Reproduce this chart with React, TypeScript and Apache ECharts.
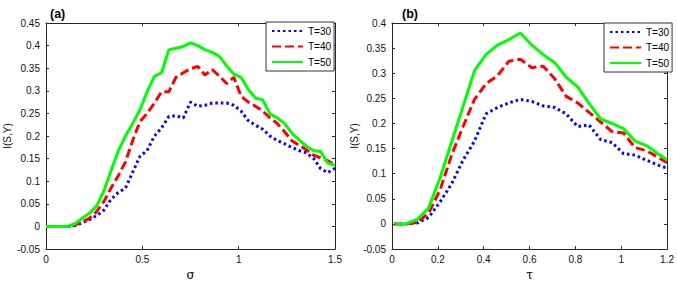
import React, { useEffect, useRef } from "react";
import * as echarts from "echarts";

// ---- Data: panel (a) ----
const sigma = [
  0, 0.0375, 0.075, 0.1125, 0.15, 0.1875, 0.225, 0.2625, 0.3, 0.3375, 0.375,
  0.4125, 0.45, 0.4875, 0.525, 0.5625, 0.6, 0.6375, 0.675, 0.7125, 0.75,
  0.7875, 0.825, 0.8625, 0.9, 0.9375, 0.975, 1.0125, 1.05, 1.0875, 1.125,
  1.1625, 1.2, 1.2375, 1.275, 1.3125, 1.35, 1.3875, 1.425, 1.4625, 1.5,
];
const a30 = [
  0, 0, 0, 0, 0.002, 0.008, 0.015, 0.024, 0.036, 0.06, 0.075,
  0.085, 0.12, 0.155, 0.168, 0.2, 0.218, 0.243, 0.245, 0.24, 0.275,
  0.266, 0.268, 0.273, 0.273, 0.273, 0.268, 0.255, 0.234, 0.224, 0.215,
  0.2, 0.19, 0.183, 0.175, 0.168, 0.163, 0.151, 0.128, 0.119, 0.129,
];
const a40 = [
  0, 0, 0, 0, 0.003, 0.01, 0.018, 0.033, 0.055, 0.085, 0.112,
  0.143, 0.19, 0.232, 0.25, 0.273, 0.298, 0.298, 0.33, 0.34, 0.349,
  0.354, 0.335, 0.347, 0.333, 0.316, 0.33, 0.288, 0.275, 0.266, 0.255,
  0.24, 0.228, 0.21, 0.19, 0.18, 0.17, 0.158, 0.152, 0.145, 0.137,
];
const a50 = [
  0, 0, 0, 0, 0.006, 0.018, 0.029, 0.045, 0.078, 0.123, 0.167,
  0.2, 0.228, 0.258, 0.298, 0.332, 0.34, 0.391, 0.394, 0.398, 0.406,
  0.4, 0.391, 0.385, 0.376, 0.355, 0.337, 0.33, 0.303, 0.284, 0.28,
  0.249, 0.24, 0.228, 0.207, 0.192, 0.178, 0.168, 0.166, 0.14, 0.135,
];

// ---- Data: panel (b) ----
const tau = [
  0.01, 0.06, 0.11, 0.16, 0.21, 0.26, 0.31, 0.36, 0.41, 0.46, 0.51, 0.56,
  0.61, 0.66, 0.71, 0.76, 0.81, 0.86, 0.91, 0.96, 1.01, 1.06, 1.11, 1.16, 1.2,
];
const b30 = [
  0, 0, 0.002, 0.013, 0.044, 0.08, 0.127, 0.165, 0.219, 0.232, 0.241, 0.248,
  0.244, 0.235, 0.232, 0.219, 0.194, 0.197, 0.168, 0.162, 0.14, 0.137, 0.127,
  0.117, 0.111,
];
const b40 = [
  0, 0, 0.003, 0.022, 0.068, 0.137, 0.194, 0.248, 0.279, 0.295, 0.324, 0.328,
  0.311, 0.314, 0.289, 0.254, 0.241, 0.222, 0.203, 0.184, 0.181, 0.152, 0.146,
  0.133, 0.122,
];
const b50 = [
  0, 0, 0.009, 0.032, 0.092, 0.163, 0.234, 0.305, 0.337, 0.356, 0.367, 0.38,
  0.356, 0.337, 0.321, 0.292, 0.273, 0.24, 0.209, 0.2, 0.19, 0.165, 0.156,
  0.14, 0.128,
];

const seriesNames = ["T=30", "T=40", "T=50"];
const panelTitles = ["(a)", "(b)"];
const xNames = ["σ", "τ"];
const yName = "I(S,Y)";

const FONT = "Liberation Sans, Arial, Helvetica, sans-serif";
const AXIS_COLOR = "#262626";

const zip = (xs: number[], ys: number[]) => xs.map((x, i) => [x, ys[i]]);
const fmt = (v: number) => String(Number(v.toFixed(2)));

const styles = [
  { color: "#0000ff", type: [2.5, 3] as any, cap: "butt" },
  { color: "#ff0000", type: [9, 4] as any, cap: "butt" },
  { color: "#00ff00", type: "solid" as any, cap: "butt" },
];

export default function App() {
  const ref = useRef<HTMLDivElement>(null);
  useEffect(() => {
    document.body.style.margin = "0";
    if (!ref.current) return;
    const chart = echarts.init(ref.current, undefined, { renderer: "svg" });

    const mainX = (grid: number, max: number, interval: number, name: string) => ({
      type: "value",
      gridIndex: grid,
      position: "bottom",
      min: 0,
      max,
      interval,
      name,
      nameLocation: "middle",
      nameGap: 16,
      nameTextStyle: { fontFamily: "DejaVu Serif, serif", fontSize: 12, color: "#000" },
      axisLine: { onZero: false, lineStyle: { color: AXIS_COLOR, width: 1 } },
      axisTick: { inside: true, length: 3, lineStyle: { color: AXIS_COLOR } },
      axisLabel: { fontFamily: FONT, fontSize: 10, color: "#111", margin: 5, formatter: fmt },
      splitLine: { show: false },
    });
    const topX = (grid: number, max: number, interval: number) => ({
      type: "value",
      gridIndex: grid,
      position: "top",
      min: 0,
      max,
      interval,
      axisLine: { onZero: false, lineStyle: { color: AXIS_COLOR, width: 1 } },
      axisTick: { inside: true, length: 3, lineStyle: { color: AXIS_COLOR } },
      axisLabel: { show: false },
      splitLine: { show: false },
    });
    const mainY = (grid: number, max: number, gap: number) => ({
      type: "value",
      gridIndex: grid,
      position: "left",
      min: -0.05,
      max,
      interval: 0.05,
      name: yName,
      nameLocation: "middle",
      nameGap: gap,
      nameTextStyle: { fontFamily: FONT, fontSize: 10, color: "#111" },
      axisLine: { onZero: false, lineStyle: { color: AXIS_COLOR, width: 1 } },
      axisTick: { inside: true, length: 3, lineStyle: { color: AXIS_COLOR } },
      axisLabel: { fontFamily: FONT, fontSize: 10, color: "#111", margin: 6, formatter: fmt },
      splitLine: { show: false },
    });
    const rightY = (grid: number, max: number) => ({
      type: "value",
      gridIndex: grid,
      position: "right",
      min: -0.05,
      max,
      interval: 0.05,
      axisLine: { onZero: false, lineStyle: { color: AXIS_COLOR, width: 1 } },
      axisTick: { inside: true, length: 3, lineStyle: { color: AXIS_COLOR } },
      axisLabel: { show: false },
      splitLine: { show: false },
    });

    const panelA = [a30, a40, a50];
    const panelB = [b30, b40, b50];
    const mk = (name: string, data: number[][], axisIdx: number, s: any) => ({
      type: "line",
      name,
      data,
      xAxisIndex: axisIdx,
      yAxisIndex: axisIdx,
      showSymbol: false,
      symbol: "none",
      lineStyle: { color: s.color, width: 3, type: s.type, cap: s.cap },
      itemStyle: { color: s.color },
    });

    const legend = (left: number, top: number) => ({
      left,
      top,
      orient: "vertical",
      data: seriesNames,
      itemWidth: 31,
      itemHeight: 12,
      itemGap: 3.5,
      padding: [3, 3, 3, 5],
      borderColor: "#333",
      borderWidth: 1,
      backgroundColor: "#fff",
      selectedMode: false,
      textStyle: { fontFamily: FONT, fontSize: 10, color: "#000", lineHeight: 12, padding: [0, 0, 0, 0] },
      itemStyle: { opacity: 0 },
    });

    chart.setOption({
      animation: false,
      backgroundColor: "#fff",
      title: [
        { text: panelTitles[0], left: 45, top: 2, textStyle: { fontFamily: FONT, fontSize: 12.5, fontWeight: "bold", color: "#000" } },
        { text: panelTitles[1], left: 397, top: 2, textStyle: { fontFamily: FONT, fontSize: 12.5, fontWeight: "bold", color: "#000" } },
      ],
      grid: [
        { left: 46, top: 23, width: 289, height: 235, containLabel: false },
        { left: 392, top: 23, width: 278, height: 235, containLabel: false },
      ],
      xAxis: [
        mainX(0, 1.5, 0.5, xNames[0]),
        topX(0, 1.5, 0.5),
        mainX(1, 1.2, 0.2, xNames[1]),
        topX(1, 1.2, 0.2),
      ],
      yAxis: [
        mainY(0, 0.45, 34),
        rightY(0, 0.45),
        mainY(1, 0.4, 30),
        rightY(1, 0.4),
      ],
      legend: [legend(266, 22), legend(604, 23)],
      series: [
        ...seriesNames.map((n, i) => mk(n, zip(sigma, panelA[i]), 0, styles[i])),
        ...seriesNames.map((n, i) => mk(n, zip(tau, panelB[i]), 2, styles[i])),
      ],
    });
    return () => chart.dispose();
  }, []);
  return <div ref={ref} style={{ width: 677, height: 286 }} />;
}
